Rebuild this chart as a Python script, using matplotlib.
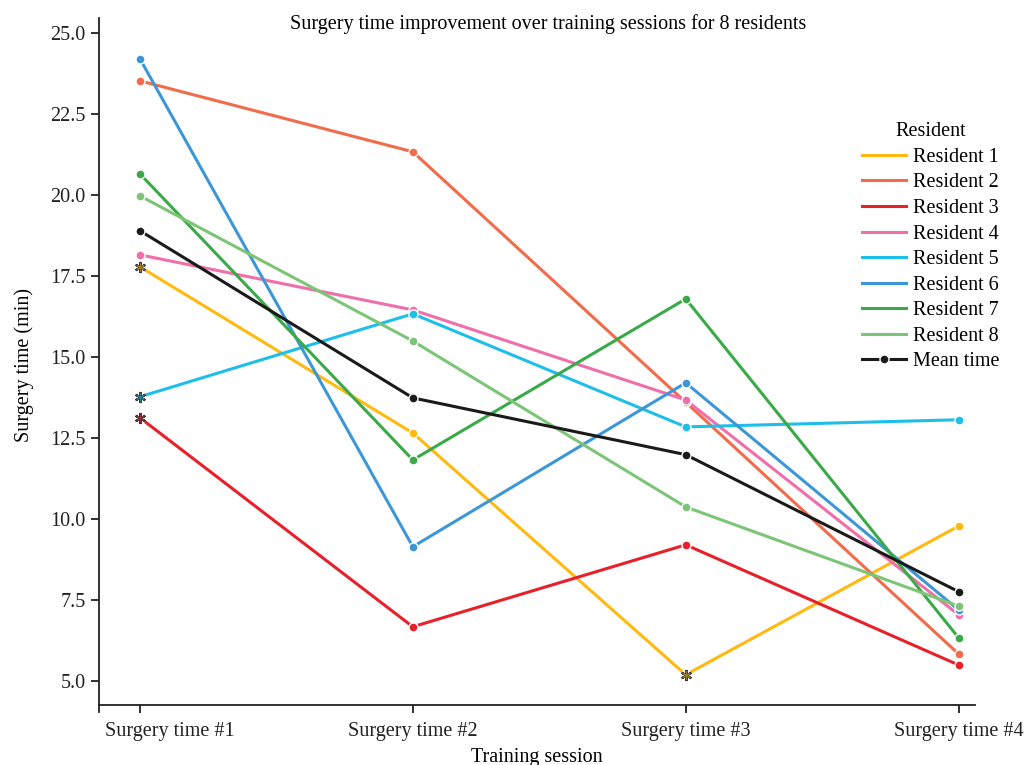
import matplotlib
matplotlib.use("Agg")
import matplotlib.pyplot as plt
from matplotlib.lines import Line2D
from matplotlib.transforms import ScaledTranslation

plt.rcParams['font.family'] = ['Liberation Serif', 'DejaVu Serif']

sessions = ["Surgery time #1", "Surgery time #2", "Surgery time #3", "Surgery time #4"]
residents = ["Resident 1", "Resident 2", "Resident 3", "Resident 4",
             "Resident 5", "Resident 6", "Resident 7", "Resident 8"]
colors = ["#FFB90F", "#F26B4A", "#E8202A", "#F06EAA",
          "#1EBEEB", "#3C97D6", "#3AAA48", "#7CC576"]

r1 = [17.78, 12.65, 5.19, 9.78]
r2 = [23.52, 21.33, 13.60, 5.83]
r3 = [13.12, 6.67, 9.20, 5.49]
r4 = [18.15, 16.45, 13.67, 7.04]
r5 = [13.77, 16.33, 12.84, 13.06]
r6 = [24.20, 9.14, 14.20, 7.19]
r7 = [20.65, 11.82, 16.79, 6.33]
r8 = [19.97, 15.49, 10.37, 7.31]
series = [r1, r2, r3, r4, r5, r6, r7, r8]
mean_time = [sum(v[i] for v in series) / len(series) for i in range(4)]

# points flagged with an asterisk: (resident index, session index)
flagged = [(0, 0), (2, 0), (4, 0), (0, 2)]

FS = 14.5

fig = plt.figure(figsize=(10.24, 7.65), dpi=100)
ax = fig.add_axes([99/1024, 1 - 712/765, (975 - 99)/1024, (712 - 18)/765])

# spine placement first: it resets the tick setup of the axis
for s in ['top', 'right']:
    ax.spines[s].set_visible(False)
ax.spines['bottom'].set_position(('outward', -5))
for s in ['left', 'bottom']:
    ax.spines[s].set_linewidth(1.3)
    ax.spines[s].set_color('#222222')

x = list(range(len(sessions)))
for name, vals, c in zip(residents, series, colors):
    ax.plot(x, vals, color=c, lw=2.2, zorder=2)
    ax.plot(x, vals, ls='none', marker='o', ms=6.5, mfc=c, mec='white', mew=1, zorder=3)
ax.plot(x, mean_time, color='#1a1a1a', lw=2.2, marker='o', ms=6.5,
        mfc='#1a1a1a', mec='white', mew=1, zorder=4)

for ri, si in flagged:
    c = colors[ri]
    ax.plot([x[si]], [series[ri][si]], ls='none', marker='o', ms=7,
            mfc='white', mec='white', zorder=5)
    ax.plot([x[si]], [series[ri][si]], ls='none', marker=(6, 2, 0), ms=8,
            mec='#3a3a3a', mew=1.6, zorder=6)
    ax.plot([x[si]], [series[ri][si]], ls='none', marker=(6, 2, 0), ms=6,
            mec=c, mew=0.8, alpha=0.5, zorder=7)

ax.set_xlim(-0.15, 3.06)
ax.set_ylim(4.04, 25.46)
ax.set_xticks(x)
ax.set_xticklabels(sessions, fontsize=FS)
yt = [5.0, 7.5, 10.0, 12.5, 15.0, 17.5, 20.0, 22.5, 25.0]
ax.set_yticks(yt)
ax.set_yticklabels([f"{v:.1f}" for v in yt], fontsize=FS)
ax.tick_params(length=6, width=1.3, color='#222222', labelcolor='#222222')
ax.tick_params(axis='x', pad=6)

# nudge the first session label to the right, clear of the y axis
first = ax.get_xticklabels()[0]
first.set_transform(first.get_transform() + ScaledTranslation(0.30, 0, fig.dpi_scale_trans))

ax.set_xlabel("Training session", fontsize=FS, labelpad=5)
ax.set_ylabel("Surgery time (min)", fontsize=FS, labelpad=12)
ax.text(0.513, 0.992, "Surgery time improvement over training sessions for 8 residents",
        transform=ax.transAxes, ha='center', va='center', fontsize=FS)

handles = [Line2D([], [], color=c, lw=2.2) for c in colors]
handles.append(Line2D([], [], color='#1a1a1a', lw=2.2, marker='o', ms=6.5,
                      mfc='#1a1a1a', mec='white', mew=1))
leg = ax.legend(handles, residents + ["Mean time"], title="Resident",
                loc='upper left', bbox_to_anchor=(0.85, 0.8757), frameon=False,
                fontsize=FS, title_fontsize=FS, handlelength=2.2,
                labelspacing=0.32, handletextpad=0.35)

fig.savefig("out.png", dpi=100)
